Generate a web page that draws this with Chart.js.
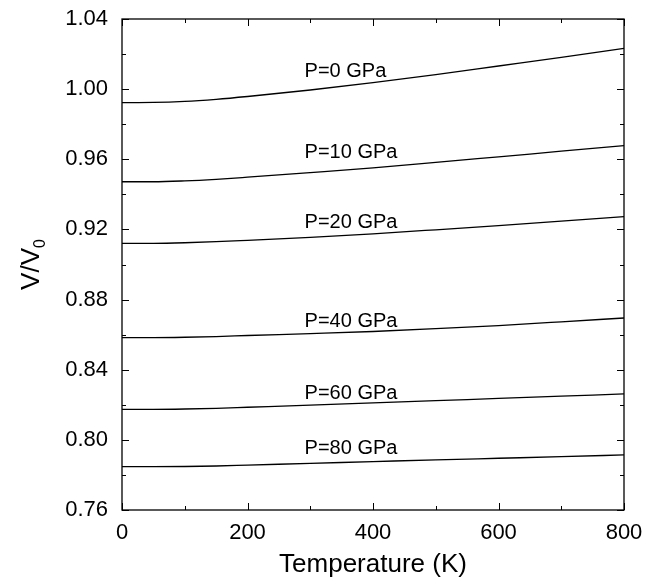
<!DOCTYPE html>
<html lang="en">
<head>
    <meta charset="UTF-8">
    <title>V/V0 vs Temperature</title>
    <script src="https://cdn.jsdelivr.net/npm/chart.js"></script>
    <style>
        body {
            margin: 0;
            background: #fff;
        }
        #wrap {
            width: 646px;
            height: 580px;
        }
    </style>
</head>
<body>
    <div id="wrap"><canvas id="chart" width="646" height="580"></canvas></div>

    <script>
        // temperatures (K) where the curves were read
        var temps = [0, 50, 100, 150, 200, 300, 400, 500, 600, 700, 800];

        // V/V0 for each pressure
        var p0  = [0.9923, 0.9924, 0.9930, 0.9942, 0.9958, 0.9995, 1.0037, 1.0083, 1.0132, 1.0181, 1.0233];
        var p10 = [0.9472, 0.9472, 0.9477, 0.9486, 0.9498, 0.9524, 0.9551, 0.9582, 0.9614, 0.9646, 0.9678];
        var p20 = [0.9121, 0.9121, 0.9124, 0.9130, 0.9138, 0.9155, 0.9175, 0.9198, 0.9222, 0.9247, 0.9273];
        var p40 = [0.8583, 0.8583, 0.8585, 0.8589, 0.8595, 0.8606, 0.8618, 0.8634, 0.8652, 0.8673, 0.8695];
        var p60 = [0.8174, 0.8174, 0.8176, 0.8180, 0.8186, 0.8198, 0.8211, 0.8224, 0.8236, 0.8249, 0.8262];
        var p80 = [0.7847, 0.7847, 0.7848, 0.7851, 0.7856, 0.7866, 0.7876, 0.7886, 0.7895, 0.7904, 0.7914];

        // curve labels and where they sit (data coords, left edge / middle)
        var labelText = ['P=0 GPa', 'P=10 GPa', 'P=20 GPa', 'P=40 GPa', 'P=60 GPa', 'P=80 GPa'];
        var labelX = [291, 291, 291, 291, 291, 291];
        var labelY = [1.0098, 0.9640, 0.9240, 0.8674, 0.8267, 0.7948];

        var xTicks = [0, 200, 400, 600, 800];
        var yTicks = [0.76, 0.80, 0.84, 0.88, 0.92, 0.96, 1.00, 1.04];

        var font = "'Liberation Sans', Arial, Helvetica, sans-serif";
        var series = [p0, p10, p20, p40, p60, p80];

        function pts(arr) {
            return arr.map(function (v, i) { return { x: temps[i], y: v }; });
        }

        // frame, inward ticks, titles and curve labels
        var decor = {
            id: 'decor',
            afterDraw: function (chart) {
                var ctx = chart.ctx;
                var a = chart.chartArea;
                var xs = chart.scales.x;
                var ys = chart.scales.y;
                ctx.save();
                ctx.strokeStyle = '#000';
                ctx.lineWidth = 1.3;
                ctx.strokeRect(a.left, a.top, a.right - a.left, a.bottom - a.top);

                ctx.lineWidth = 1;
                ctx.beginPath();
                for (var t = 0; t <= 800; t += 100) {
                    var px = Math.round(xs.getPixelForValue(t)) + 0.5;
                    var len = (t % 200 === 0) ? 7 : 4;
                    ctx.moveTo(px, a.bottom); ctx.lineTo(px, a.bottom - len);
                    ctx.moveTo(px, a.top); ctx.lineTo(px, a.top + len);
                }
                for (var k = 0; k <= 14; k++) {
                    var v = 0.76 + k * 0.02;
                    var py = Math.round(ys.getPixelForValue(v)) + 0.5;
                    var l2 = (k % 2 === 0) ? 7 : 4;
                    ctx.moveTo(a.left, py); ctx.lineTo(a.left + l2, py);
                    ctx.moveTo(a.right, py); ctx.lineTo(a.right - l2, py);
                }
                ctx.stroke();

                ctx.fillStyle = '#000';
                // curve labels
                ctx.font = '20px ' + font;
                ctx.textAlign = 'left';
                ctx.textBaseline = 'middle';
                for (var i = 0; i < labelText.length; i++) {
                    ctx.fillText(labelText[i], xs.getPixelForValue(labelX[i]), ys.getPixelForValue(labelY[i]));
                }

                // x title
                ctx.font = '26px ' + font;
                ctx.textAlign = 'center';
                ctx.textBaseline = 'alphabetic';
                ctx.fillText('Temperature (K)', (a.left + a.right) / 2, 572);

                // y title, rotated, with subscript 0
                ctx.translate(39, (a.top + a.bottom) / 2);
                ctx.rotate(-Math.PI / 2);
                var main = 'V/V';
                ctx.font = '26px ' + font;
                var w1 = ctx.measureText(main).width;
                ctx.font = '16px ' + font;
                var w2 = ctx.measureText('0').width;
                var start = -(w1 + w2) / 2;
                ctx.textAlign = 'left';
                ctx.font = '26px ' + font;
                ctx.fillText(main, start, 0);
                ctx.font = '16px ' + font;
                ctx.fillText('0', start + w1, 6);
                ctx.restore();
            }
        };

        var ctx = document.getElementById('chart').getContext('2d');
        var chart = new Chart(ctx, {
            type: 'line',
            data: {
                datasets: series.map(function (s) {
                    return {
                        data: pts(s),
                        borderColor: '#000',
                        borderWidth: 1.3,
                        pointRadius: 0,
                        fill: false,
                        cubicInterpolationMode: 'monotone'
                    };
                })
            },
            options: {
                responsive: false,
                animation: false,
                events: [],
                layout: {
                    padding: { top: 19, right: 22, left: 0, bottom: 0 }
                },
                plugins: {
                    legend: { display: false },
                    tooltip: { enabled: false }
                },
                scales: {
                    x: {
                        type: 'linear',
                        min: 0,
                        max: 800,
                        afterBuildTicks: function (s) {
                            s.ticks = xTicks.map(function (v) { return { value: v }; });
                        },
                        afterFit: function (s) {
                            s.height = 70;
                            s.paddingLeft = 0;
                            s.paddingRight = 0;
                        },
                        grid: { display: false, drawTicks: false },
                        border: { display: false },
                        ticks: {
                            color: '#000',
                            padding: 10,
                            maxRotation: 0,
                            font: { family: font, size: 22 }
                        }
                    },
                    y: {
                        type: 'linear',
                        min: 0.76,
                        max: 1.04,
                        afterBuildTicks: function (s) {
                            s.ticks = yTicks.map(function (v) { return { value: v }; });
                        },
                        afterFit: function (s) {
                            s.width = 122;
                            s.paddingTop = 0;
                            s.paddingBottom = 0;
                        },
                        grid: { display: false, drawTicks: false },
                        border: { display: false },
                        ticks: {
                            color: '#000',
                            padding: 14,
                            font: { family: font, size: 22 },
                            callback: function (v) { return v.toFixed(2); }
                        }
                    }
                }
            },
            plugins: [decor]
        });
    </script>
</body>
</html>
